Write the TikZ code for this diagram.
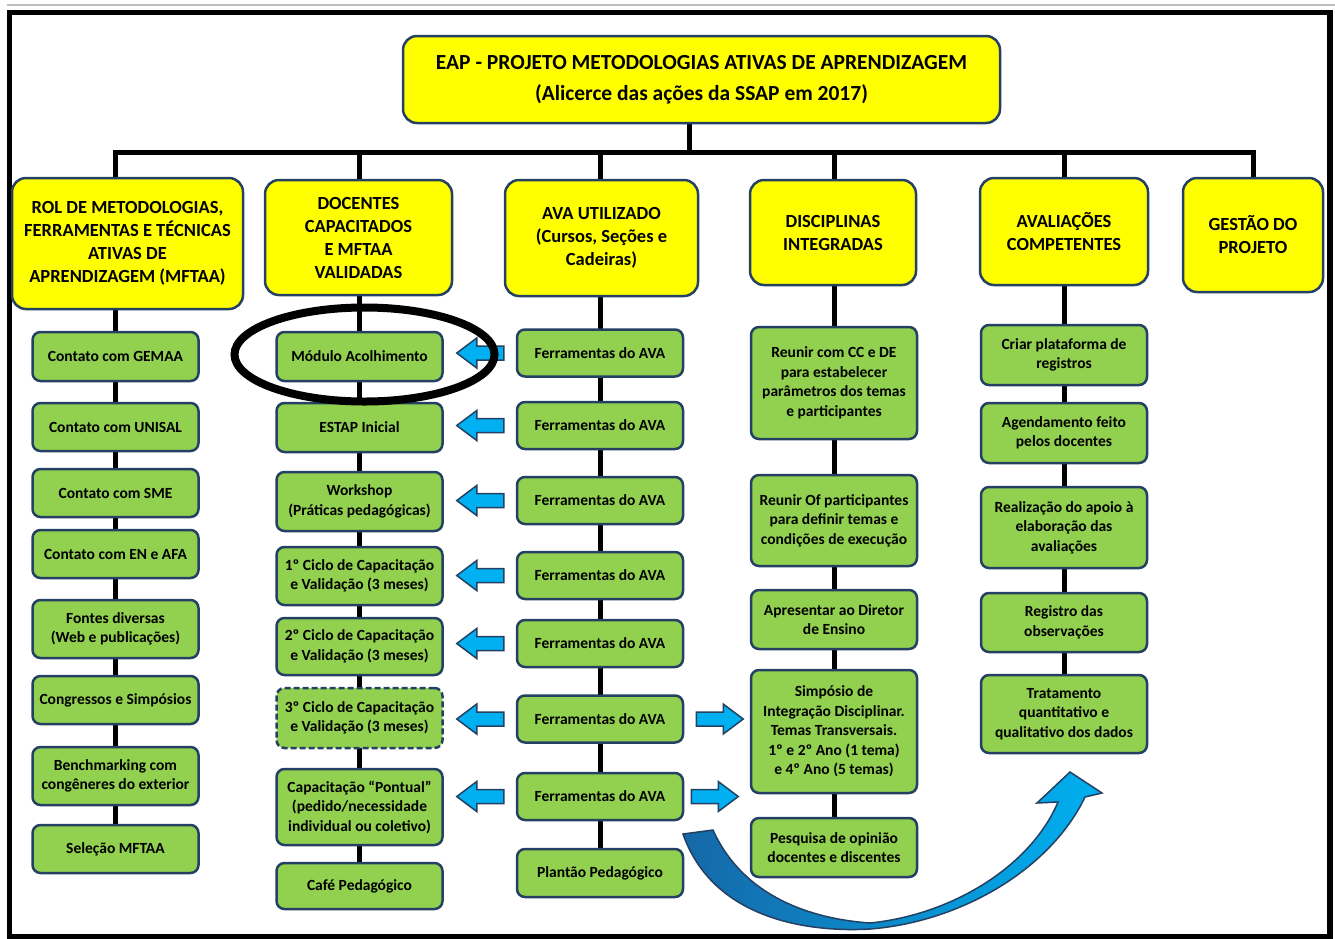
\documentclass[tikz,border=0pt]{standalone}
\usepackage{fontspec}
\setmainfont{Carlito}
\usetikzlibrary{calc,backgrounds}

\definecolor{boxline}{RGB}{36, 64, 98}
\definecolor{headfill}{RGB}{255, 255, 0}
\definecolor{itemfill}{RGB}{146, 208, 80}
\definecolor{arrowfill}{RGB}{0, 176, 240}
\definecolor{curvedark}{RGB}{22, 104, 168}

\newcommand{\titlefont}{\bfseries\fontsize{21.5}{31}\selectfont}
\newcommand{\headfont}{\bfseries\fontsize{18.5}{23}\selectfont}
\newcommand{\itemfont}{\bfseries\fontsize{15.5}{19.5}\selectfont}

\tikzset{
    headbox/.style={draw=boxline, line width=2.5pt, fill=headfill, rounded corners=14pt,
        align=center, font=\headfont, inner sep=2pt},
    itembox/.style={draw=boxline, line width=2.5pt, fill=itemfill, rounded corners=8pt,
        align=center, font=\itemfont, inner sep=2pt, minimum width=166pt},
    link/.style={line width=5pt, black},
    blockarrow/.style={draw=boxline, line width=1.5pt, fill=arrowfill, line join=miter},
}

\begin{document}
\begin{tikzpicture}[x=1pt, y=-1pt]

    \useasboundingbox (0,0) rectangle (1335,938);

    % ==========================================
    % --- Frame ---
    % ==========================================
    \draw[gray!50, line width=1.5pt] (7,5) -- (1335,5);
    \draw[black, line width=5.5pt] (9.5,12.7) rectangle (1330,937);

    % ==========================================
    % --- Title and main branches ---
    % ==========================================
    \node[headbox, font=\titlefont, minimum width=597pt, minimum height=87pt] (title) at (701.5,79.5)
        {EAP - PROJETO METODOLOGIAS ATIVAS DE APRENDIZAGEM\\(Alicerce das ações da SSAP em 2017)};

    \node[headbox, minimum width=231pt, minimum height=131pt] (rol) at (127.5,243.5)
        {ROL DE METODOLOGIAS,\\FERRAMENTAS E TÉCNICAS\\ATIVAS DE\\APRENDIZAGEM (MFTAA)};
    \node[headbox, minimum width=187pt, minimum height=115pt] (doc) at (358.5,237.5)
        {DOCENTES\\CAPACITADOS\\E MFTAA\\VALIDADAS};
    \node[headbox, minimum width=193pt, minimum height=116pt] (ava) at (601.5,238)
        {AVA UTILIZADO\\(Cursos, Seções e\\Cadeiras)};
    \node[headbox, minimum width=166pt, minimum height=105pt] (dis) at (833,232.5)
        {DISCIPLINAS\\INTEGRADAS};
    \node[headbox, minimum width=168pt, minimum height=107pt] (avl) at (1064,231.5)
        {AVALIAÇÕES\\COMPETENTES};
    \node[headbox, minimum width=140pt, minimum height=114pt] (ges) at (1253,235)
        {GESTÃO DO\\PROJETO};

    % ==========================================
    % --- Column 1: MFTAA ---
    % ==========================================
    \node[itembox, minimum height=49pt] (c1) at (115.5,356.5) {Contato com GEMAA};
    \node[itembox, minimum height=48pt] (c2) at (115.5,427) {Contato com UNISAL};
    \node[itembox, minimum height=48pt] (c3) at (115.5,493) {Contato com SME};
    \node[itembox, minimum height=48pt] (c4) at (115.5,554) {Contato com EN e AFA};
    \node[itembox, minimum height=58pt] (c5) at (115.5,629) {Fontes diversas\\(Web e publicações)};
    \node[itembox, minimum height=48pt] (c6) at (115.5,700) {Congressos e Simpósios};
    \node[itembox, minimum height=58pt] (c7) at (115.5,776) {Benchmarking com\\congêneres do exterior};
    \node[itembox, minimum height=48pt] (c8) at (115.5,849) {Seleção MFTAA};

    % ==========================================
    % --- Column 2: docentes ---
    % ==========================================
    \node[itembox, minimum height=49pt] (d1) at (359.5,356.5) {Módulo Acolhimento};
    \node[itembox, minimum height=49pt] (d2) at (359.5,427.5) {ESTAP Inicial};
    \node[itembox, minimum height=59pt] (d3) at (359.5,501.5) {Workshop\\(Práticas pedagógicas)};
    \node[itembox, minimum height=58pt] (d4) at (359.5,576) {1º Ciclo de Capacitação\\e Validação (3 meses)};
    \node[itembox, minimum height=57pt] (d5) at (359.5,646.5) {2º Ciclo de Capacitação\\e Validação (3 meses)};
    \node[itembox, minimum height=60pt, dash pattern=on 6pt off 3pt] (d6) at (359.5,718)
        {3º Ciclo de Capacitação\\e Validação (3 meses)};
    \node[itembox, minimum height=76pt] (d7) at (359.5,807)
        {Capacitação “Pontual”\\(pedido/necessidade\\individual ou coletivo)};
    \node[itembox, minimum height=46pt] (d8) at (359.5,886) {Café Pedagógico};

    % ==========================================
    % --- Column 3: AVA ---
    % ==========================================
    \foreach \n/\y in {f1/353, f2/425.5, f3/500.5, f4/575.5, f5/643.5, f6/719, f7/796.5} {
        \node[itembox, minimum height=47pt] (\n) at (600,\y) {Ferramentas do AVA};
    }
    \node[itembox, minimum height=48pt] (pl) at (600,873) {Plantão Pedagógico};

    % ==========================================
    % --- Column 4: disciplinas ---
    % ==========================================
    \node[itembox, minimum height=112pt] (g1) at (834,383)
        {Reunir com CC e DE\\para estabelecer\\parâmetros dos temas\\e participantes};
    \node[itembox, minimum height=91pt] (g2) at (834,520.5)
        {Reunir Of participantes\\para definir temas e\\condições de execução};
    \node[itembox, minimum height=59pt] (g3) at (834,619.5) {Apresentar ao Diretor\\de Ensino};
    \node[itembox, minimum height=123pt] (g4) at (834,731.5)
        {Simpósio de\\Integração Disciplinar.\\Temas Transversais.\\1º e 2º Ano (1 tema)\\e 4º Ano (5 temas)};
    \node[itembox, minimum height=59pt] (g5) at (834,847.5) {Pesquisa de opinião\\docentes e discentes};

    % ==========================================
    % --- Column 5: avaliacoes ---
    % ==========================================
    \node[itembox, minimum height=60pt] (h1) at (1064,355) {Criar plataforma de\\registros};
    \node[itembox, minimum height=60pt] (h2) at (1064,433) {Agendamento feito\\pelos docentes};
    \node[itembox, minimum height=81pt] (h3) at (1064,527.5)
        {Realização do apoio à\\elaboração das\\avaliações};
    \node[itembox, minimum height=59pt] (h4) at (1064,622.5) {Registro das\\observações};
    \node[itembox, minimum height=78pt] (h5) at (1064,714)
        {Tratamento\\quantitativo e\\qualitativo dos dados};

    % ==========================================
    % --- Tree lines (behind boxes) ---
    % ==========================================
    \coordinate (stem) at (689,152);
    \begin{scope}[on background layer]
        \draw[link] (stem |- title.south) -- (stem);
        \draw[link] (rol.north -| c1) |- (stem) -| (ges.north);
        \foreach \hd/\top in {doc/d1, ava/f1, dis/g1, avl/h1} {
            \draw[link] (\top |- stem) -- (\hd.north -| \top);
        }
        % column spines
        \draw[link] (rol.south -| c1) -- (c8.north);
        \draw[link] (doc.south -| d1) -- (d8.north);
        \draw[link] (ava.south -| f1) -- (pl.north);
        \draw[link] (dis.south -| g1) -- (g5.north);
        \draw[link] (avl.south -| h1) -- (h5.north);
    \end{scope}

    % ==========================================
    % --- Block arrows ---
    % ==========================================
    \foreach \src in {f1, f2, f3, f4, f5, f6, f7} {
        \draw[blockarrow] ($(\src.west)+(-12,-7)$) -- ++(-27,0) -- ++(0,-8) -- ++(-20,15)
            -- ++(20,15) -- ++(0,-8) -- ++(27,0) -- cycle;
    }
    \foreach \src/\gap in {f6/12, f7/7} {
        \draw[blockarrow] ($(\src.east)+(\gap,-7)$) -- ++(27,0) -- ++(0,-8) -- ++(20,15)
            -- ++(-20,15) -- ++(0,-8) -- ++(-27,0) -- cycle;
    }

    % Highlight ring round the first module
    \draw[black, line width=8pt] ([shift={(5,-2)}]d1.center) ellipse [x radius=130pt, y radius=47pt];

    % Curved arrow from AVA to avaliacoes
    \draw[draw=boxline, line width=1.5pt, left color=curvedark, right color=arrowfill]
        (683,834) .. controls (715,925) and (820,932) .. (870,929)
        .. controls (960,922) and (1050,870) .. (1085,797)
        -- (1102,793) -- (1070,772) -- (1037,803) -- (1058,802)
        .. controls (1030,868) and (950,915) .. (870,923)
        .. controls (800,918) and (740,890) .. (713,830) -- cycle;

\end{tikzpicture}
\end{document}
